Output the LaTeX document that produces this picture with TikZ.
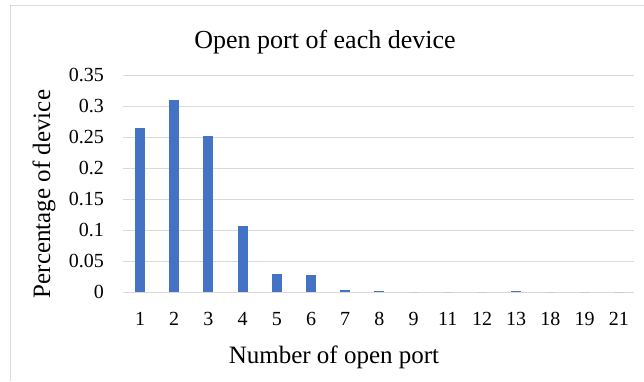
\documentclass[tikz,border=0pt]{standalone}
\usepackage{fontspec}
\setmainfont{Liberation Serif}
\definecolor{barblue}{HTML}{4472C4}
\definecolor{gridgray}{HTML}{D9D9D9}
\tikzset{
  ticklabel/.style={font=\fontsize{20}{24}\selectfont,inner sep=0pt},
  axistitle/.style={font=\fontsize{25}{30}\selectfont,inner sep=0pt},
}
\begin{document}
\begin{tikzpicture}[x=1pt,y=-1pt]
                \useasboundingbox (0,0) rectangle (644,381);
                \draw[gridgray] (10,381) -- (10,5) -- (644,5);
                \node[font=\fontsize{26}{30}\selectfont,inner sep=0pt] (title) at (325,42) {Open port of each device};
                % gridlines and y labels
                \foreach \k/\t in {0/0,1/0.05,2/0.1,3/0.15,4/0.2,5/0.25,6/0.3,7/0.35} {
                    \draw[gridgray,line width=1pt] (123,{292-31*\k}) -- (634,{292-31*\k});
                    \node[ticklabel,anchor=east] (y\k) at (104,{292-31*\k}) {\t};
                }
                % bars and x labels
                \foreach \i/\lab/\v in {0/1/0.265,1/2/0.31,2/3/0.252,3/4/0.106,4/5/0.029,5/6/0.028,6/7/0.004,7/8/0.002,8/9/0,9/11/0,10/12/0,11/13/0.001,12/18/0,13/19/0,14/21/0} {
                    \coordinate (b\i) at ({140+34.2*\i},292);
                    \fill[barblue] ([xshift=-5pt]b\i) rectangle ++(10,{-620*\v});
                    \node[ticklabel] (x\i) at ([yshift=-27pt]b\i) {\lab};
                }
                \node[axistitle,rotate=90] (ytitle) at (44,194) {Percentage of device};
                \node[axistitle] (xtitle) at (334,357) {Number of open port};
            \end{tikzpicture}
\end{document}
